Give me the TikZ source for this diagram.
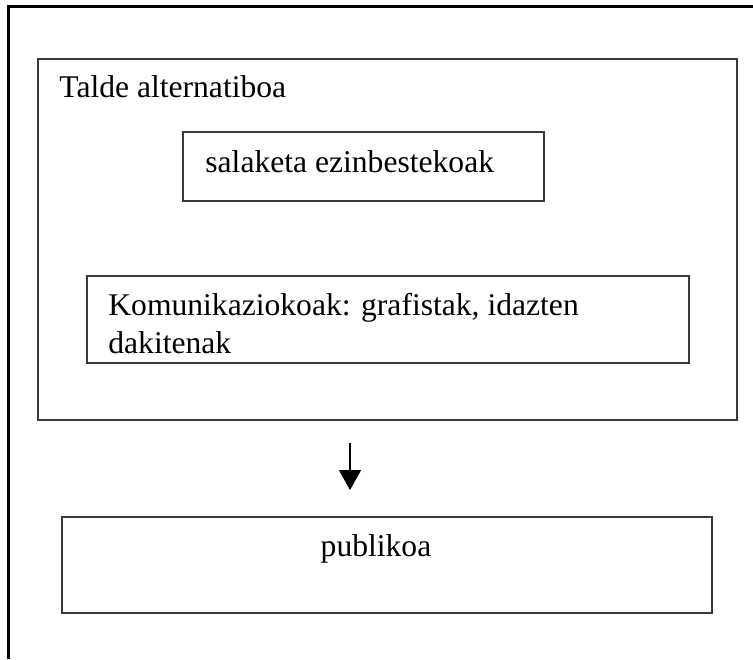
\documentclass[tikz,border=0pt]{standalone}
\usepackage{fontspec}
\setmainfont{Liberation Serif}
\usetikzlibrary{arrows.meta}

\begin{document}
\begin{tikzpicture}[x=0.5pt, y=-0.5pt,
    box/.style={draw=black!78, line width=1pt, inner sep=0pt, anchor=north west},
    txt/.style={inner sep=0pt, anchor=base west, font=\fontsize{15.8}{19}\selectfont},
    flecha/.style={-{Triangle[length=10pt, width=11pt]}, line width=0.6pt}]
    % Marco de la pagina
    \useasboundingbox (0,0) rectangle (753,659);
    \draw[line width=1.5pt] (8,659) -- (8,6) -- (753,6);

    % Caja grande
    \node[box, minimum width=349.5pt, minimum height=180.5pt] (talde) at (37,58) {};
    \node[txt] (taldetxt) at (59,97) {Talde alternatiboa};

    % Cajas interiores
    \node[box, minimum width=180.5pt, minimum height=34.5pt] (salaketa) at (182,131) {};
    \node[txt] (salaketatxt) at (205,172) {salaketa ezinbestekoak};
    \node[box, minimum width=301pt, minimum height=43.5pt] (komunikazio) at (86,275) {};
    % el ancla base es la de la ultima linea
    \node[txt, align=left] (komunikaziotxt) at (108,353) {Komunikaziokoak: grafistak, idazten\\dakitenak};

    % Flecha hacia el publico
    \coordinate (g1) at (350,443);
    \coordinate (g2) at (350,490);
    \draw[flecha] (g1) -- (g2);

    % Caja de abajo
    \node[box, minimum width=325pt, minimum height=48pt] (publikoa) at (61,516) {};
    \node[txt, anchor=base] (publikoatxt) at (376,556) {publikoa};
\end{tikzpicture}
\end{document}
